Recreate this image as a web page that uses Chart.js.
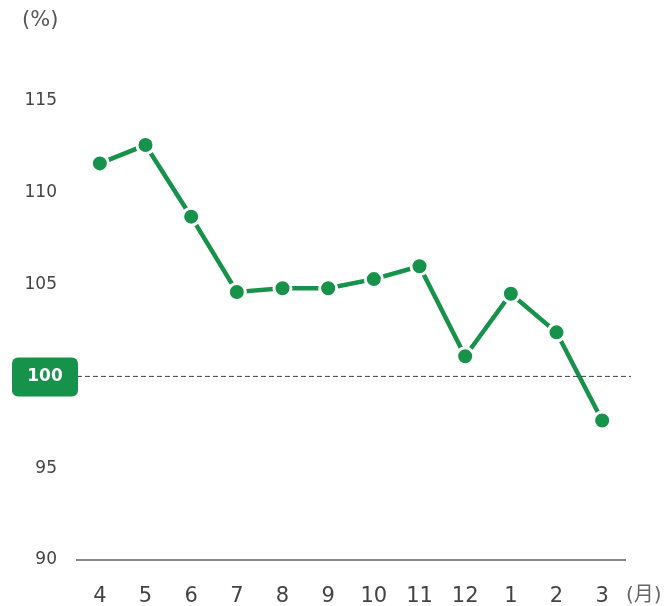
<!DOCTYPE html>
<html>
<head>
<meta charset="utf-8">
<script src="https://cdn.jsdelivr.net/npm/chart.js@4"></script>
<style>
  html, body { margin: 0; padding: 0; background: #fff; }
  #wrap { width: 665px; height: 606px; }
</style>
</head>
<body>
<div id="wrap"><canvas id="chart" width="665" height="606"></canvas></div>
<script>
const months = ['4', '5', '6', '7', '8', '9', '10', '11', '12', '1', '2', '3'];
const values = [111.6, 112.6, 108.7, 104.6, 104.8, 104.8, 105.3, 106.0, 101.1, 104.5, 102.4, 97.6];
const yTicks = [90, 95, 100, 105, 110, 115];
const baseValue = 100;

const green = '#16924a';
const fontFamily = '"DejaVu Sans", "Noto Sans CJK JP", sans-serif';

// Dashed base line, green badge and the unit labels
const extras = {
    id: 'extras',
    afterDraw(chart) {
        const { ctx, chartArea, scales } = chart;
        const y = scales.y.getPixelForValue(baseValue);
        ctx.save();
        ctx.strokeStyle = '#444';
        ctx.lineWidth = 1;
        ctx.setLineDash([5, 3]);
        ctx.beginPath();
        ctx.moveTo(chartArea.left, y);
        ctx.lineTo(chartArea.right + 6, y);
        ctx.stroke();
        ctx.setLineDash([]);

        ctx.fillStyle = green;
        ctx.beginPath();
        ctx.roundRect(12, y - 19, 66, 39, 6);
        ctx.fill();
        ctx.fillStyle = '#fff';
        ctx.font = 'bold 17px ' + fontFamily;
        ctx.textAlign = 'center';
        ctx.textBaseline = 'middle';
        ctx.fillText(String(baseValue), 45, y + 0.5);

        ctx.fillStyle = '#555';
        ctx.font = '21px ' + fontFamily;
        ctx.textAlign = 'left';
        ctx.fillText('(%)', 22, 21);
        ctx.fillStyle = '#666';
        ctx.font = '20px ' + fontFamily;
        ctx.fillText('(月)', chartArea.right + 1, 596);
        ctx.restore();
    }
};

new Chart(document.getElementById('chart'), {
    type: 'line',
    data: {
        labels: months,
        datasets: [{
            data: values,
            borderColor: green,
            backgroundColor: green,
            borderWidth: 4.5,
            pointRadius: 8.5,
            pointHoverRadius: 8.5,
            pointBorderWidth: 3,
            pointBorderColor: '#fff',
            pointBackgroundColor: green,
            tension: 0,
            clip: false,
        }],
    },
    options: {
        responsive: false,
        animation: false,
        events: [],
        layout: { padding: { top: 101, right: 40, bottom: 0, left: 0 } },
        plugins: { legend: { display: false }, tooltip: { enabled: false } },
        scales: {
            x: {
                offset: true,
                afterFit: s => { s.height = 46; },
                grid: { display: false, drawTicks: false },
                border: { display: true, color: '#888', width: 2 },
                ticks: { color: '#444', font: { family: fontFamily, size: 21 }, padding: 24, maxRotation: 0 },
            },
            y: {
                min: yTicks[0],
                max: yTicks[yTicks.length - 1],
                afterBuildTicks: s => { s.ticks = yTicks.map(v => ({ value: v })); },
                afterFit: s => { s.width = 77; },
                grid: { display: false, drawTicks: false },
                border: { display: false },
                ticks: {
                    color: '#444',
                    padding: 20,
                    font: { family: fontFamily, size: 17 },
                    callback: v => (v === baseValue ? '' : v),
                },
            },
        },
    },
    plugins: [extras],
});
</script>
</body>
</html>
